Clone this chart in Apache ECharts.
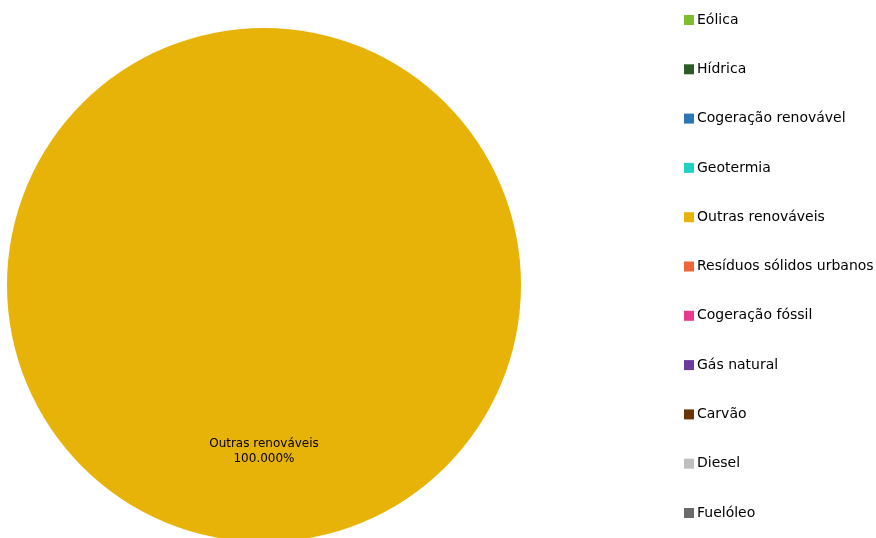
<!DOCTYPE html>
<html>
<head>
<meta charset="utf-8">
<script src="https://cdn.jsdelivr.net/npm/echarts@6/dist/echarts.min.js"></script>
<style>
  html, body { margin: 0; padding: 0; background: #fff; }
  #chart { width: 876px; height: 538px; }
</style>
</head>
<body>
<div id="chart"></div>
<script>
const fontes = [
    "Eólica",
    "Hídrica",
    "Cogeração renovável",
    "Geotermia",
    "Outras renováveis",
    "Resíduos sólidos urbanos",
    "Cogeração fóssil",
    "Gás natural",
    "Carvão",
    "Diesel",
    "Fuelóleo",
];
const valores = [0, 0, 0, 0, 100, 0, 0, 0, 0, 0, 0];
const cores = [
    "#80bc2e", "#2d5a27", "#2e75b6", "#1ed3c3", "#e8b308", "#f0643a",
    "#e8398c", "#6b3a9a", "#6b3300", "#bfbfbf", "#6a6a6a",
];

document.addEventListener("DOMContentLoaded", () => {
    const total = valores.reduce((a, b) => a + b, 0);
    echarts.init(document.querySelector("#chart")).setOption({
        animation: false,
        color: cores,
        textStyle: { fontFamily: "DejaVu Sans" },
        legend: {
            orient: "vertical",
            left: 679,
            top: 7,
            itemWidth: 10,
            itemHeight: 10,
            itemGap: 33.3,
            icon: "rect",
            data: fontes,
            textStyle: { fontSize: 14, color: "#000", lineHeight: 16, padding: [0, 0, 0, -2] },
        },
        series: [
            {
                type: "pie",
                center: [264, 285],
                radius: [0, 257],
                startAngle: 90,
                avoidLabelOverlap: false,
                label: {
                    position: "inside",
                    color: "#000",
                    fontSize: 12,
                    lineHeight: 15,
                    formatter: (p) => p.name + "\n" + (p.value / total * 100).toFixed(3) + "%",
                },
                labelLine: { show: false },
                labelLayout: { dy: 35 },
                data: fontes.map((n, i) => ({
                    name: n,
                    value: valores[i],
                    label: { show: valores[i] > 0 },
                })),
            },
        ],
    });
});
</script>
</body>
</html>
